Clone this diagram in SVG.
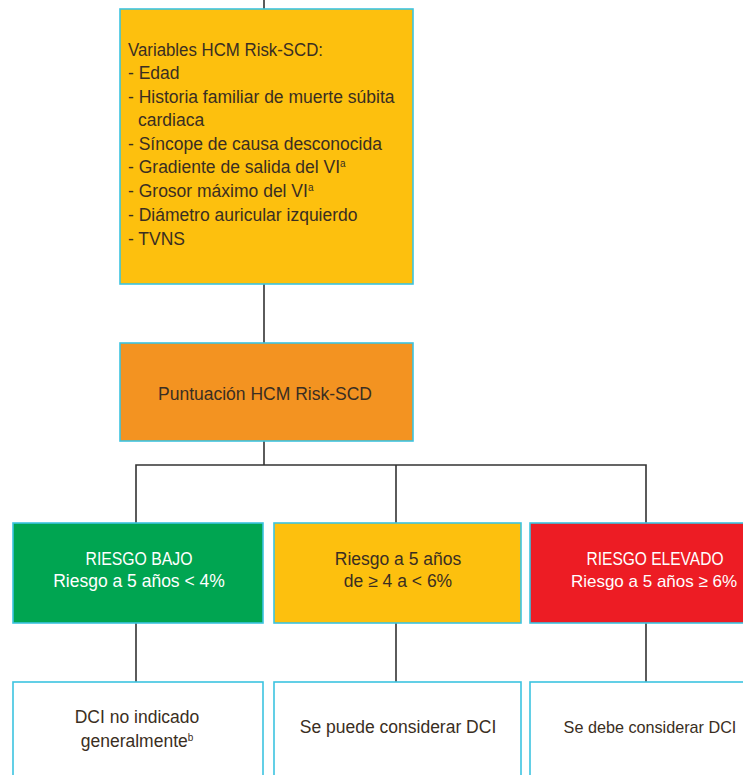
<svg xmlns="http://www.w3.org/2000/svg" width="743" height="775" viewBox="0 0 743 775">
<style>
.box{stroke:#3cc4e0;stroke-width:1.6}
.t{font-family:"Liberation Sans Narrow","Liberation Sans",Arial,sans-serif;font-size:17.5px;fill:#3a2e22}
.w{fill:#ffffff}
.c{text-anchor:middle}
.sup{font-size:10px}
.ln{stroke:#333333;stroke-width:1.6;fill:none}
</style>
<rect width="743" height="775" fill="#ffffff"/>
<g id="connectors">
<line class="ln" x1="264" y1="0" x2="264" y2="9"/>
<line class="ln" x1="264" y1="284" x2="264" y2="343"/>
<line class="ln" x1="264" y1="441" x2="264" y2="465"/>
<polyline class="ln" points="136,523 136,465 646,465 646,523"/>
<line class="ln" x1="396" y1="465" x2="396" y2="523"/>
<line class="ln" x1="136" y1="623" x2="136" y2="682"/>
<line class="ln" x1="396" y1="623" x2="396" y2="682"/>
<line class="ln" x1="646" y1="623" x2="646" y2="682"/>
</g>
<g id="variables">
<rect class="box" x="120" y="9" width="293" height="275" fill="#fdc00e"/>
<text class="t" x="128" y="56" textLength="195" lengthAdjust="spacingAndGlyphs">Variables HCM Risk-SCD:</text>
<text class="t" x="128" y="79">- Edad</text>
<text class="t" x="128" y="103">- Historia familiar de muerte súbita</text>
<text class="t" x="138" y="126">cardiaca</text>
<text class="t" x="128" y="150">- Síncope de causa desconocida</text>
<text class="t" x="128" y="173">- Gradiente de salida del VI<tspan class="sup" dy="-6">a</tspan></text>
<text class="t" x="128" y="197">- Grosor máximo del VI<tspan class="sup" dy="-6">a</tspan></text>
<text class="t" x="128" y="221">- Diámetro auricular izquierdo</text>
<text class="t" x="128" y="245">- TVNS</text>
</g>
<g id="puntuacion">
<rect class="box" x="120" y="343" width="293" height="98" fill="#f39321"/>
<text class="t c" x="265" y="400">Puntuación HCM Risk-SCD</text>
</g>
<g id="riesgo-bajo">
<rect class="box" x="13" y="523" width="250" height="100" fill="#00a551"/>
<text class="t c w" x="139" y="565" textLength="107" lengthAdjust="spacingAndGlyphs">RIESGO BAJO</text>
<text class="t c w" x="139" y="587">Riesgo a 5 años &lt; 4%</text>
</g>
<g id="riesgo-intermedio">
<rect class="box" x="274" y="523" width="247" height="100" fill="#fdc00e"/>
<text class="t c" x="398" y="565">Riesgo a 5 años</text>
<text class="t c" x="398" y="587">de ≥ 4 a &lt; 6%</text>
</g>
<g id="riesgo-elevado">
<rect class="box" x="530" y="523" width="250" height="100" fill="#ed1c24"/>
<text class="t c w" x="655" y="565" textLength="137" lengthAdjust="spacingAndGlyphs">RIESGO ELEVADO</text>
<text class="t c w" x="654" y="587" style="font-size:17px">Riesgo a 5 años ≥ 6%</text>
</g>
<g id="dci-no-indicado">
<rect class="box" x="13" y="682" width="250" height="110" fill="#ffffff"/>
<text class="t c" x="137" y="723">DCI no indicado</text>
<text class="t c" x="137" y="747">generalmente<tspan class="sup" dy="-6">b</tspan></text>
</g>
<g id="dci-puede">
<rect class="box" x="274" y="682" width="247" height="110" fill="#ffffff"/>
<text class="t c" x="398" y="733">Se puede considerar DCI</text>
</g>
<g id="dci-debe">
<rect class="box" x="530" y="682" width="250" height="110" fill="#ffffff"/>
<text class="t c" x="650" y="733" style="font-size:16.2px">Se debe considerar DCI</text>
</g>
</svg>
